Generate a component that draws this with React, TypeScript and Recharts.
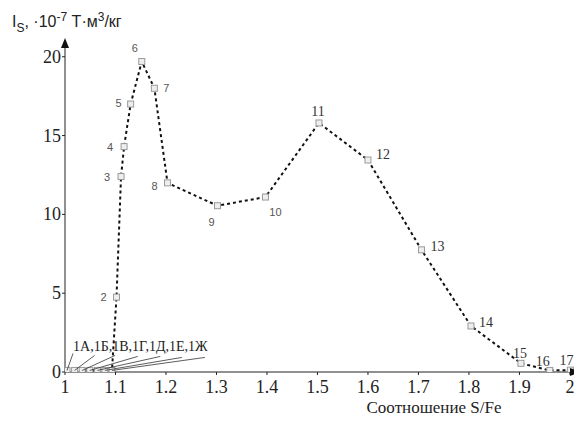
import React from 'react';
import { LineChart, Line, XAxis, YAxis, LabelList, ReferenceDot } from 'recharts';

// --- data ---
const groupNames = ['1А','1Б','1В','1Г','1Д','1Е','1Ж'];
const pointNames = [...groupNames,'2','3','4','5','6','7','8','9','10','11','12','13','14','15','16','17'];
const ratioSFe = [1.004,1.019,1.034,1.049,1.064,1.079,1.093,1.102,1.111,1.117,1.130,1.152,1.177,1.203,1.302,1.397,1.503,1.600,1.706,1.804,1.903,1.960,2.001];
const magnetization = [0.1,0.1,0.1,0.1,0.1,0.1,0.1,4.75,12.4,14.3,17.0,19.7,18.0,12.0,10.55,11.1,15.8,13.45,7.75,2.92,0.55,0.1,0.12];
const xTicks = [1,1.1,1.2,1.3,1.4,1.5,1.6,1.7,1.8,1.9,2];
const yTicks = [0,5,10,15,20];
const groupLabel = groupNames.join(',');

const data = pointNames.map((name, i) => ({ name, x: ratioSFe[i], y: magnetization[i] }));

// --- label placement (style) ---
const labelStyle: Record<string, { dx: number; dy: number; serif?: boolean }> = {
  '2': { dx: -13, dy: 4 },
  '3': { dx: -14, dy: 4 },
  '4': { dx: -14, dy: 4 },
  '5': { dx: -12, dy: 3 },
  '6': { dx: -7, dy: -9 },
  '7': { dx: 12, dy: 4 },
  '8': { dx: -13, dy: 7 },
  '9': { dx: -6, dy: 20 },
  '10': { dx: 10, dy: 19 },
  '11': { dx: -1, dy: -7, serif: true },
  '12': { dx: 15, dy: -1, serif: true },
  '13': { dx: 16, dy: 1, serif: true },
  '14': { dx: 15, dy: 1, serif: true },
  '15': { dx: -1, dy: -5, serif: true },
  '16': { dx: -7, dy: -4, serif: true },
  '17': { dx: -4, dy: -5, serif: true },
};
const leaderOffsets = [
  [6, -17], [20, -15], [33, -15], [48, -14], [63, -14], [77, -13], [93, -13],
];

const SERIF = '"Liberation Serif", "Times New Roman", serif';
const SANS = '"Liberation Sans", Arial, sans-serif';

const SquareDot = (props: any) => {
  const { cx, cy } = props;
  if (cx == null || cy == null) return null;
  return <rect x={cx - 3} y={cy - 3} width={6} height={6} fill="#eeeeee" stroke="#9a9a9a" strokeWidth={1} />;
};

const renderPointLabel = (props: any) => {
  const { x, y, value } = props;
  if (x == null || y == null) return null;
  const name = String(value);
  const k = groupNames.indexOf(name);
  if (k >= 0) {
    const off = leaderOffsets[k] || [0, 0];
    return (
      <g>
        <line x1={x} y1={y} x2={x + off[0]} y2={y + off[1]} stroke="#333" strokeWidth={0.8} />
        {k === 0 && (
          <text x={x + 6} y={y - 19} fontFamily={SERIF} fontSize={14} fill="#222">
            {groupLabel}
          </text>
        )}
      </g>
    );
  }
  const s = labelStyle[name];
  if (!s) return null;
  return (
    <text
      x={x + s.dx}
      y={y + s.dy}
      textAnchor="middle"
      fontFamily={s.serif ? SERIF : SANS}
      fontSize={s.serif ? 14 : 11}
      fill={s.serif ? '#333' : '#555'}
    >
      {name}
    </text>
  );
};

const XTick = (props: any) => {
  const { x, y, payload } = props;
  return (
    <text x={x} y={y + 17} textAnchor="middle" fontFamily={SERIF} fontSize={18} fill="#222">
      {String(payload.value)}
    </text>
  );
};
const YTick = (props: any) => {
  const { x, y, payload } = props;
  return (
    <text x={x} y={y + 6} textAnchor="end" fontFamily={SERIF} fontSize={18} fill="#222">
      {String(payload.value)}
    </text>
  );
};

const YTitle = (props: any) => {
  const vb = props.viewBox || { x: 17, y: 33 };
  const x = vb.x - 13;
  const y = vb.y - 14;
  return (
    <text x={x} y={y} fontFamily={SANS} fontSize={16} fill="#222">
      <tspan>I</tspan>
      <tspan fontSize={12} dy={5}>S</tspan>
      <tspan dy={-5}>, ·10</tspan>
      <tspan fontSize={12} dy={-6}>-7</tspan>
      <tspan dy={6}> Т·м</tspan>
      <tspan fontSize={12} dy={-6}>3</tspan>
      <tspan dy={6}>/кг</tspan>
    </text>
  );
};

const XTitle = (props: any) => {
  const vb = props.viewBox || { x: 57, y: 364 };
  return (
    <text x={vb.x + 369} y={vb.y + 41} textAnchor="middle" fontFamily={SERIF} fontSize={17} fill="#222">
      Соотношение S/Fe
    </text>
  );
};

const RightArrow = (props: any) => {
  const { cx, cy } = props;
  return <polygon points={`${cx + 3},${cy} ${cx - 7},${cy - 4} ${cx - 7},${cy + 4}`} fill="#111" />;
};
const UpArrow = (props: any) => {
  const { cx, cy } = props;
  return <polygon points={`${cx},${cy - 3} ${cx - 4},${cy + 7} ${cx + 4},${cy + 7}`} fill="#111" />;
};

export default function App() {
  return (
    <LineChart width={574} height={416} data={data} margin={{ top: 33, right: 5, bottom: 22, left: 17 }}>
      <XAxis
        dataKey="x"
        type="number"
        domain={[1, 2.014]}
        ticks={xTicks}
        tick={<XTick />}
        axisLine={{ stroke: '#222' }}
        tickLine={{ stroke: '#222' }}
        tickSize={3}
        tickMargin={1}
        height={30}
        allowDataOverflow
        label={<XTitle />}
      />
      <YAxis
        dataKey="y"
        type="number"
        domain={[0, 21]}
        ticks={yTicks}
        tick={<YTick />}
        axisLine={{ stroke: '#222' }}
        tickLine={{ stroke: '#222' }}
        tickSize={3}
        tickMargin={1}
        width={40}
        allowDataOverflow
        label={<YTitle />}
      />
      <Line
        type="linear"
        dataKey="y"
        stroke="#111"
        strokeWidth={2}
        strokeDasharray="3 3"
        dot={<SquareDot />}
        activeDot={false}
        isAnimationActive={false}
      >
        <LabelList dataKey="name" content={renderPointLabel} />
      </Line>
      <ReferenceDot x={2.014} y={0} r={0} ifOverflow="visible" shape={<RightArrow />} />
      <ReferenceDot x={1} y={21} r={0} ifOverflow="visible" shape={<UpArrow />} />
    </LineChart>
  );
}
